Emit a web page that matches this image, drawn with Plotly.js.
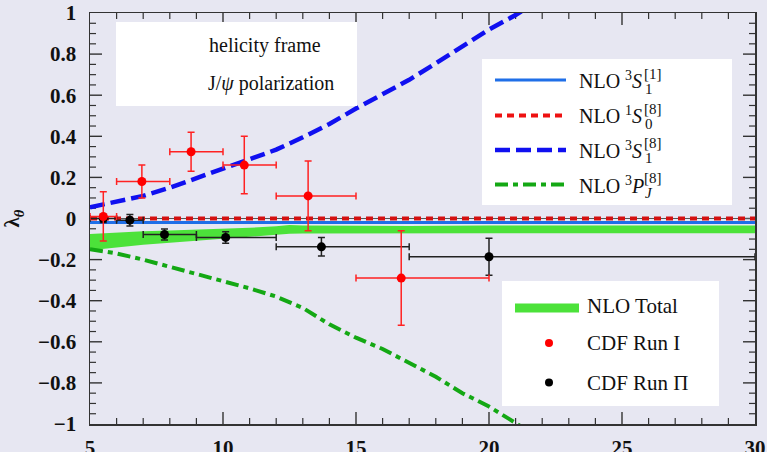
<!DOCTYPE html>
<html>
<head>
<meta charset="utf-8">
<script src="https://cdn.plot.ly/plotly-3.0.1.min.js"></script>
<style>html,body{margin:0;padding:0;background:#e7e7f2;}#chart{width:767px;height:452px;}</style>
</head>
<body>
<div id="chart"></div>
<script>
// ---- Theory curves ----
const pt_curve = [5, 6, 7, 8, 9, 10, 11, 12, 13, 14, 15, 16, 17, 18, 19, 20, 21, 22];
const s1_octet = [0.055, 0.08, 0.11, 0.15, 0.195, 0.24, 0.285, 0.335, 0.395, 0.46, 0.535, 0.605, 0.675, 0.755, 0.84, 0.92, 0.99, 1.07];
const pj_octet = [-0.15, -0.17, -0.2, -0.235, -0.27, -0.305, -0.34, -0.38, -0.435, -0.515, -0.58, -0.635, -0.7, -0.77, -0.85, -0.915, -0.995, -1.08];
const pt_line_full = [5, 30];
const s1_singlet = [-0.02, -0.02];
const s0_octet = [0, 0];

// NLO total band
const pt_band = [5, 6, 7, 8, 9, 10, 11, 12, 12.5, 13, 15, 17, 20, 25, 30];
const band_upper = [-0.075, -0.068, -0.062, -0.058, -0.054, -0.05, -0.045, -0.038, -0.032, -0.034, -0.036, -0.036, -0.034, -0.033, -0.034];
const band_lower = [-0.155, -0.14, -0.128, -0.118, -0.108, -0.098, -0.09, -0.08, -0.074, -0.073, -0.072, -0.072, -0.072, -0.072, -0.072];

// CDF Run I
const run1_pt = [5.5, 6.95, 8.8, 10.8, 13.2, 16.7];
const run1_lam = [0.01, 0.18, 0.325, 0.26, 0.11, -0.29];
const run1_ptlo = [5, 6, 8, 10, 12, 15];
const run1_pthi = [6, 8, 10, 12, 15, 20];
const run1_err = [0.12, 0.08, 0.095, 0.14, 0.17, 0.23];

// CDF Run II
const run2_pt = [5.5, 6.5, 7.8, 10.1, 13.7, 20.0];
const run2_lam = [0.0, -0.008, -0.078, -0.092, -0.138, -0.186];
const run2_ptlo = [5, 6, 7, 9, 12, 17];
const run2_pthi = [6, 7, 9, 12, 17, 30];
const run2_err = [0.02, 0.028, 0.027, 0.028, 0.045, 0.09];

// tick values
const x_major = [10, 15, 20, 25];
const x_minor = [6, 7, 8, 9, 11, 12, 13, 14, 16, 17, 18, 19, 21, 22, 23, 24, 26, 27, 28, 29];
const y_major = [-0.8, -0.6, -0.4, -0.2, 0, 0.2, 0.4, 0.6, 0.8];
const y_minor = [-0.95, -0.9, -0.85, -0.75, -0.7, -0.65, -0.55, -0.5, -0.45, -0.35, -0.3, -0.25, -0.15, -0.1, -0.05,
                 0.05, 0.1, 0.15, 0.25, 0.3, 0.35, 0.45, 0.5, 0.55, 0.65, 0.7, 0.75, 0.85, 0.9, 0.95];

// legend / label texts
const legend_rows = [
  {main: 'NLO <sup>3</sup><i>S</i>', sup: '[1]', sub: '1'},
  {main: 'NLO <sup>1</sup><i>S</i>', sup: '[8]', sub: '0'},
  {main: 'NLO <sup>3</sup><i>S</i>', sup: '[8]', sub: '1'},
  {main: 'NLO <sup>3</sup><i>P</i>', sup: '[8]', sub: '<i>J</i>'}
];
const legend2_labels = ['NLO Total', 'CDF Run I', 'CDF Run Π'];
const info_labels = ['helicity frame', 'J/<i>ψ</i> polarization'];

// ---- colours / styles ----
const BG = '#e7e7f2';
const C_BLUE = '#1f6fe8';
const C_RED = '#d41010';
const C_DBLUE = '#1010f0';
const C_GREEN = '#14a814';
const C_BAND = '#4ce23a';
const C_AX = '#333';
const DOT = '7px,5px';
const DASH = '15px,6px';
const DASHDOT = '13px,5px,5px,5px';

const plus = (hi, c) => hi.map((v, i) => v - c[i]);
const minus = (lo, c) => lo.map((v, i) => c[i] - v);

const traces = [
  {x: pt_band, y: band_lower, mode: 'lines', line: {width: 0, color: C_BAND}, hoverinfo: 'skip', showlegend: false},
  {x: pt_band, y: band_upper, mode: 'lines', fill: 'tonexty', fillcolor: C_BAND, line: {width: 0, color: C_BAND}, showlegend: false},
  {x: pt_curve, y: pj_octet, mode: 'lines', line: {color: C_GREEN, width: 4, dash: DASHDOT}, showlegend: false},
  {x: pt_curve, y: s1_octet, mode: 'lines', line: {color: C_DBLUE, width: 4.5, dash: DASH}, showlegend: false},
  {x: pt_line_full, y: s1_singlet, mode: 'lines', line: {color: C_BLUE, width: 3}, showlegend: false},
  {x: pt_line_full, y: s0_octet, mode: 'lines', line: {color: C_RED, width: 4, dash: DOT}, showlegend: false},
  {x: run2_pt, y: run2_lam, mode: 'markers', marker: {color: '#000', size: 9},
   error_x: {type: 'data', symmetric: false, array: plus(run2_pthi, run2_pt), arrayminus: minus(run2_ptlo, run2_pt), color: '#222', thickness: 1.5, width: 3.5},
   error_y: {type: 'data', array: run2_err, color: '#222', thickness: 1.5, width: 3.5}, showlegend: false},
  {x: run1_pt, y: run1_lam, mode: 'markers', marker: {color: '#ff0000', size: 9},
   error_x: {type: 'data', symmetric: false, array: plus(run1_pthi, run1_pt), arrayminus: minus(run1_ptlo, run1_pt), color: '#f22', thickness: 1.5, width: 3.5},
   error_y: {type: 'data', array: run1_err, color: '#f22', thickness: 1.5, width: 3.5}, showlegend: false}
];

// pixel -> paper helpers (plot area: x 90..755, y 13..424)
const PX = p => (p - 90) / 665;
const PY = p => (424 - p) / 411;

const SERIF = 'Liberation Serif, Times New Roman, serif';

// frame ticks (inside, on all four sides), placed through the axes' own scales
const tickShapes = [];
function xTick(v, len, w) {
  tickShapes.push({type: 'line', xref: 'x', yref: 'paper', ysizemode: 'pixel', yanchor: 0, x0: v, x1: v, y0: 0, y1: len, line: {color: C_AX, width: w}, layer: 'below'});
  tickShapes.push({type: 'line', xref: 'x', yref: 'paper', ysizemode: 'pixel', yanchor: 1, x0: v, x1: v, y0: 0, y1: -len, line: {color: C_AX, width: w}, layer: 'below'});
}
function yTick(v, len, w) {
  tickShapes.push({type: 'line', xref: 'paper', yref: 'y', xsizemode: 'pixel', xanchor: 0, y0: v, y1: v, x0: 0, x1: len, line: {color: C_AX, width: w}, layer: 'below'});
  tickShapes.push({type: 'line', xref: 'paper', yref: 'y', xsizemode: 'pixel', xanchor: 1, y0: v, y1: v, x0: 0, x1: -len, line: {color: C_AX, width: w}, layer: 'below'});
}
x_major.forEach(v => xTick(v, 12, 1.4));
x_minor.forEach(v => xTick(v, 6, 1.2));
y_major.forEach(v => yTick(v, 12, 1.4));
y_minor.forEach(v => yTick(v, 6, 1.2));

const shapes = tickShapes.concat([
  {type: 'rect', xref: 'paper', yref: 'paper', x0: PX(116), x1: PX(357), y0: PY(106), y1: PY(22), fillcolor: '#fff', line: {width: 0}, layer: 'above'},
  {type: 'rect', xref: 'paper', yref: 'paper', x0: PX(482), x1: PX(732), y0: PY(205), y1: PY(59), fillcolor: '#fff', line: {width: 0}, layer: 'above'},
  {type: 'rect', xref: 'paper', yref: 'paper', x0: PX(502), x1: PX(719), y0: PY(406), y1: PY(281), fillcolor: '#fff', line: {width: 0}, layer: 'above'},
  {type: 'line', xref: 'paper', yref: 'paper', x0: PX(495), x1: PX(566), y0: PY(80), y1: PY(80), line: {color: C_BLUE, width: 3}, layer: 'above'},
  {type: 'line', xref: 'paper', yref: 'paper', x0: PX(495), x1: PX(566), y0: PY(115.5), y1: PY(115.5), line: {color: '#ee1111', width: 4, dash: DOT}, layer: 'above'},
  {type: 'line', xref: 'paper', yref: 'paper', x0: PX(495), x1: PX(566), y0: PY(150), y1: PY(150), line: {color: C_DBLUE, width: 4.5, dash: DASH}, layer: 'above'},
  {type: 'line', xref: 'paper', yref: 'paper', x0: PX(495), x1: PX(566), y0: PY(184.5), y1: PY(184.5), line: {color: C_GREEN, width: 4, dash: DASHDOT}, layer: 'above'},
  {type: 'line', xref: 'paper', yref: 'paper', x0: PX(515), x1: PX(579), y0: PY(308), y1: PY(308), line: {color: C_BAND, width: 9}, layer: 'above'},
  {type: 'circle', xref: 'paper', yref: 'paper', x0: PX(545), x1: PX(553), y0: PY(347), y1: PY(339), fillcolor: '#ff0000', line: {width: 0}, layer: 'above'},
  {type: 'circle', xref: 'paper', yref: 'paper', x0: PX(545), x1: PX(553), y0: PY(386.5), y1: PY(378.5), fillcolor: '#000', line: {width: 0}, layer: 'above'}
]);

function ann(text, px, py, size) {
  return {text: text, xref: 'paper', yref: 'paper', x: PX(px), y: PY(py), xanchor: 'left', yanchor: 'middle',
    showarrow: false, borderpad: 0, font: {family: SERIF, size: size, color: '#111'}};
}

const rowY = [80.5, 115.5, 150, 185];
const annotations = [
  ann(info_labels[0], 208, 45, 20),
  ann(info_labels[1], 207, 83, 20),
  ann(legend2_labels[0], 586, 306, 21),
  ann(legend2_labels[1], 586, 343, 21),
  ann(legend2_labels[2], 586, 382.5, 21)
];
legend_rows.forEach((r, i) => {
  const y = rowY[i];
  annotations.push(ann(r.main, 578, y, 20));
  annotations.push(ann(r.sup, 643, y - 7, 15));
  annotations.push(ann(r.sub, 643.5, y + 8.5, 15));
});

const layout = {
  width: 767, height: 452,
  margin: {l: 90, r: 12, t: 13, b: 28},
  paper_bgcolor: BG, plot_bgcolor: BG,
  showlegend: false,
  xaxis: {
    range: [5, 30], dtick: 5, showgrid: false, zeroline: false,
    showline: true, linecolor: C_AX, linewidth: 1.5, mirror: true,
    ticks: '', ticklabelstandoff: 4,
    tickfont: {family: SERIF, size: 21, color: '#111', weight: 'bold'}
  },
  yaxis: {
    range: [-1, 1], dtick: 0.2, showgrid: false,
    zeroline: true, zerolinecolor: '#555', zerolinewidth: 1.5,
    showline: true, linecolor: C_AX, linewidth: 1.5, mirror: true,
    ticks: '', ticklabelstandoff: 8,
    tickfont: {family: SERIF, size: 21, color: '#111', weight: 'bold'},
    title: {text: 'λ<sub><i>θ</i></sub>', standoff: 12, font: {family: SERIF, size: 21, color: '#111', weight: 'bold'}}
  },
  shapes: shapes,
  annotations: annotations
};

Plotly.newPlot('chart', traces, layout, {staticPlot: true, displayModeBar: false});
</script>
</body>
</html>
